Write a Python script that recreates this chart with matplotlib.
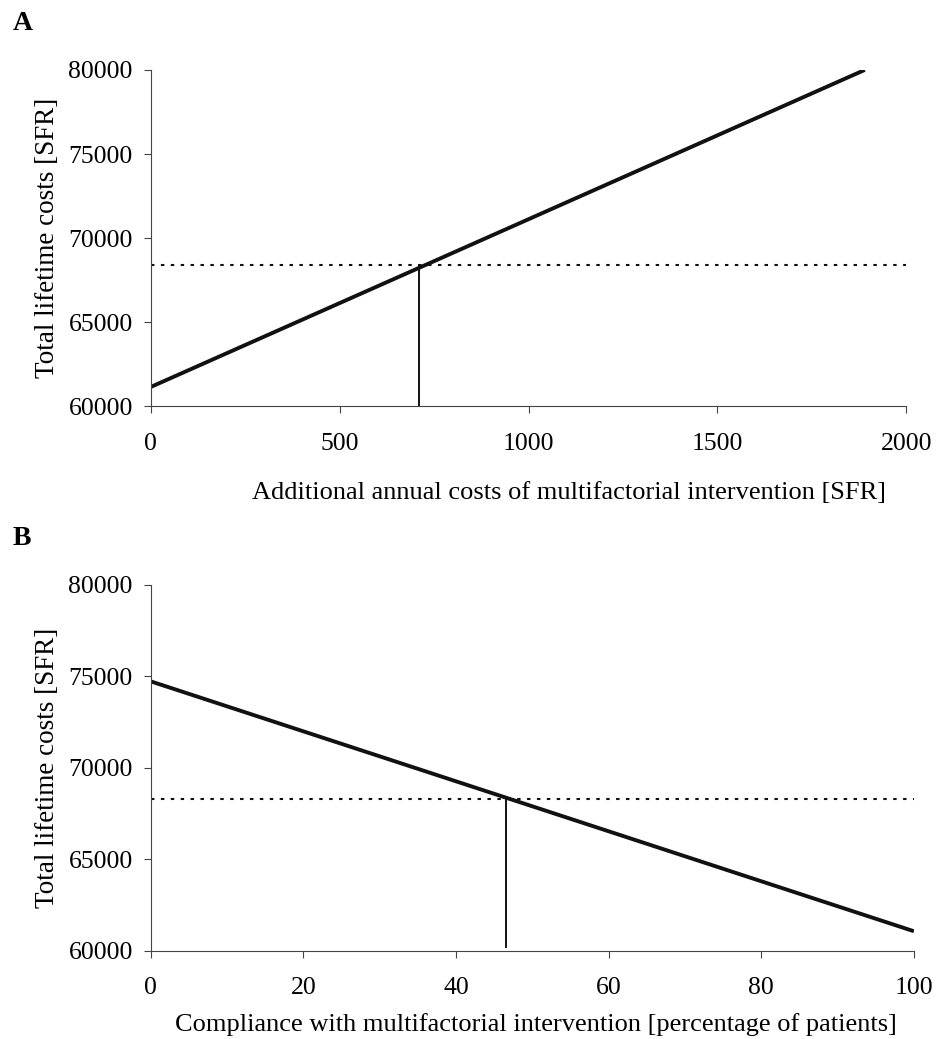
import matplotlib.pyplot as plt

plt.rcParams['font.family'] = ['Liberation Serif', 'DejaVu Serif']

# Panel A: additional annual costs vs total lifetime costs
a_x = [0, 1890]
a_y = [61150, 80000]
a_break_x = 710
a_ref = 68380

# Panel B: compliance vs total lifetime costs
b_x = [0, 100]
b_y = [74730, 61080]
b_break_x = 46.5
b_ref = 68330

a_xticks = [0, 500, 1000, 1500, 2000]
b_xticks = [0, 20, 40, 60, 80, 100]
yticks = [60000, 65000, 70000, 75000, 80000]

fig = plt.figure(figsize=(9.49, 10.39), dpi=100)
axA = fig.add_axes([0.159, 0.609, 0.796, 0.3237])
axB = fig.add_axes([0.159, 0.0847, 0.804, 0.3523])


def style(ax, xticks, xmax):
    for s in ['top', 'right']:
        ax.spines[s].set_visible(False)
    for s in ['left', 'bottom']:
        ax.spines[s].set_linewidth(0.8)
        ax.spines[s].set_color('#444444')
    ax.set_xlim(0, xmax)
    ax.set_ylim(60000, 80000)
    ax.set_xticks(xticks)
    ax.set_yticks(yticks)
    ax.tick_params(axis='both', direction='out', length=5, width=0.8,
                   color='#444444', labelsize=18.5)
    ax.tick_params(axis='x', pad=14)
    ax.tick_params(axis='y', pad=8)
    ax.set_ylabel('Total lifetime costs [SFR]', fontsize=19.5, labelpad=6)


dots = (0, (1.65, 3.1))

axA.plot(a_x, a_y, color='#111111', lw=2.8, solid_capstyle='butt')
axA.plot([0, 2000], [a_ref, a_ref], color='#111111', lw=1.5, linestyle=dots)
axA.plot([a_break_x, a_break_x], [60000, a_ref], color='#111111', lw=1.4)
style(axA, a_xticks, 2000)
axA.set_xlabel('Additional annual costs of multifactorial intervention [SFR]',
               fontsize=19, labelpad=20, x=0.554)

axB.plot(b_x, b_y, color='#111111', lw=2.8, solid_capstyle='butt')
axB.plot([0, 100], [b_ref, b_ref], color='#111111', lw=1.5, linestyle=dots)
axB.plot([b_break_x, b_break_x], [60200, b_ref], color='#111111', lw=1.4)
style(axB, b_xticks, 100)
axB.set_xlabel('Compliance with multifactorial intervention [percentage of patients]',
               fontsize=19, labelpad=10, x=0.505)

fig.text(0.013, 0.977, 'A', fontsize=20, fontweight='bold', va='center')
fig.text(0.013, 0.482, 'B', fontsize=20, fontweight='bold', va='center')

plt.savefig('out.png', dpi=100)
